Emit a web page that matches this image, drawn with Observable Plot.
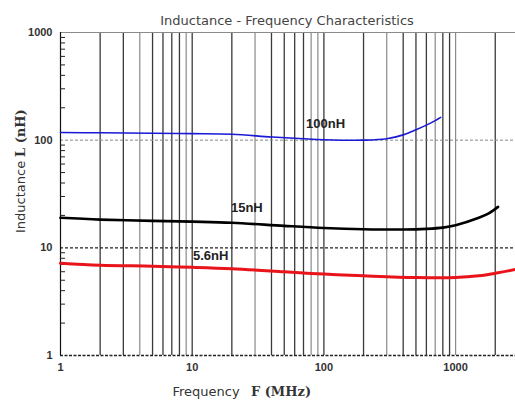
<!DOCTYPE html>
<html>
<head>
<meta charset="utf-8">
<script src="https://cdn.jsdelivr.net/npm/d3@7"></script>
<script src="https://cdn.jsdelivr.net/npm/@observablehq/plot@0.6"></script>
<style>
  html, body { margin: 0; padding: 0; background: #fff; }
  #chart svg { display: block; }
</style>
</head>
<body>
<div id="chart"></div>
<script>
// ---- data ----
const freq100 = [1, 2, 5, 10, 20, 40, 70, 100, 200, 300, 400, 500, 600, 700, 770];
const val100  = [118, 117, 116, 115, 113.5, 107, 103, 101, 100, 103, 112, 125, 138, 152, 163];

const freq15 = [1, 2, 5, 10, 20, 50, 100, 200, 400, 600, 800, 1000, 1500, 1800, 2100];
const val15  = [19.0, 18.3, 17.8, 17.5, 17.1, 16.0, 15.3, 14.9, 14.8, 15.0, 15.4, 16.2, 19.0, 21.0, 24.0];

const freq56 = [1, 2, 5, 10, 20, 50, 100, 200, 500, 1000, 1500, 2000, 2850];
const val56  = [7.2, 6.9, 6.75, 6.6, 6.4, 6.0, 5.7, 5.5, 5.3, 5.3, 5.5, 5.8, 6.3];

const seriesNames = ["100nH", "15nH", "5.6nH"];
const labelFreq = [103, 26, 13.8];
const labelL = [143, 23.4, 8.4];

const xTicks = [1, 10, 100, 1000];
const yTicks = [1, 10, 100, 1000];
const gridFreqs = [2,3,4,5,6,7,8,9,10,20,30,40,50,60,70,80,90,100,200,300,400,500,600,700,800,900,1000,2000];
const lightGrid = [4, 9, 30, 80, 90, 300, 700, 1000];
const yMinor = [2,3,4,5,6,7,8,9,20,30,40,50,60,70,80,90,200,300,400,500,600,700,800,900];

const title = "Inductance - Frequency Characteristics";

const toRows = (f, v) => f.map((x, i) => ({f: x, L: v[i]}));
const s100 = toRows(freq100, val100);
const s15 = toRows(freq15, val15);
const s56 = toRows(freq56, val56);
const labels = seriesNames.map((t, i) => ({t, f: labelFreq[i], L: labelL[i]}));

const tickFont = "Liberation Sans, Arial, sans-serif";

const chart = Plot.plot({
  width: 515,
  height: 409,
  marginLeft: 60,
  marginRight: 0,
  marginTop: 32,
  marginBottom: 54,
  style: {background: "#fff", fontFamily: tickFont},
  x: {type: "log", domain: [1, 2850], label: null},
  y: {type: "log", domain: [1, 1000], label: null},
  marks: [
    // vertical grid
    Plot.ruleX(gridFreqs.filter(d => !lightGrid.includes(d)), {stroke: "#3a3a3a", strokeWidth: 1.3}),
    Plot.ruleX(lightGrid, {stroke: "#8a8a8a", strokeWidth: 1.2}),
    // horizontal reference lines
    Plot.ruleY([1000], {stroke: "#8a8a8a", strokeWidth: 1.2}),
    Plot.ruleY([100], {stroke: "#888", strokeWidth: 1, strokeDasharray: "3,2"}),
    Plot.ruleY([10], {stroke: "#222", strokeWidth: 1.4, strokeDasharray: "3,2"}),
    Plot.ruleY([1], {stroke: "#222", strokeWidth: 1.4, strokeDasharray: "3,1.5"}),
    Plot.ruleX([1], {stroke: "#111", strokeWidth: 1.2}),
    // axes
    Plot.axisY(yMinor, {anchor: "left", tickSize: 5, dx: 5, text: null, label: null, stroke: "#222"}),
    Plot.axisY(yTicks, {anchor: "left", tickSize: 0, tickPadding: 8, tickFormat: d => String(d),
      fontWeight: "bold", fontSize: 11, fill: "#333", label: null}),
    Plot.axisX(xTicks, {anchor: "bottom", tickSize: 0, tickPadding: 8, tickFormat: d => String(d),
      fontWeight: "bold", fontSize: 11, fill: "#333", label: null}),
    // curves
    Plot.line(s56, {x: "f", y: "L", stroke: "#e8141a", strokeWidth: 3, curve: "catmull-rom"}),
    Plot.line(s15, {x: "f", y: "L", stroke: "#000", strokeWidth: 2.6, curve: "catmull-rom"}),
    Plot.line(s100, {x: "f", y: "L", stroke: "#1a1ad6", strokeWidth: 1.6, curve: "catmull-rom"}),
    // series labels
    Plot.text(labels, {x: "f", y: "L", text: "t", fontSize: 13, fontWeight: "bold", fill: "#222",
      fontFamily: tickFont}),
    // title
    Plot.text([title], {frameAnchor: "top", dx: -1, dy: -17, fontSize: 13, fill: "#444",
      fontFamily: "DejaVu Sans, sans-serif"}),
    // x-axis label
    Plot.text(["Frequency"], {frameAnchor: "bottom", dx: -82, dy: 40, fontSize: 13, fill: "#333",
      fontFamily: "DejaVu Sans, sans-serif"}),
    Plot.text(["F (MHz)"], {frameAnchor: "bottom", dx: -7, dy: 40, fontSize: 13, fontWeight: "bold", fill: "#333",
      fontFamily: "DejaVu Serif, serif"}),
    // y-axis label
    Plot.text(["Inductance"], {frameAnchor: "left", dx: -40, dy: 39, rotate: -90, fontSize: 13, fill: "#333",
      fontFamily: "DejaVu Sans, sans-serif"}),
    Plot.text(["L (nH)"], {frameAnchor: "left", dx: -40, dy: -37, rotate: -90, fontSize: 13, fontWeight: "bold", fill: "#333",
      fontFamily: "DejaVu Serif, serif"})
  ]
});
document.getElementById("chart").appendChild(chart);
</script>
</body>
</html>
